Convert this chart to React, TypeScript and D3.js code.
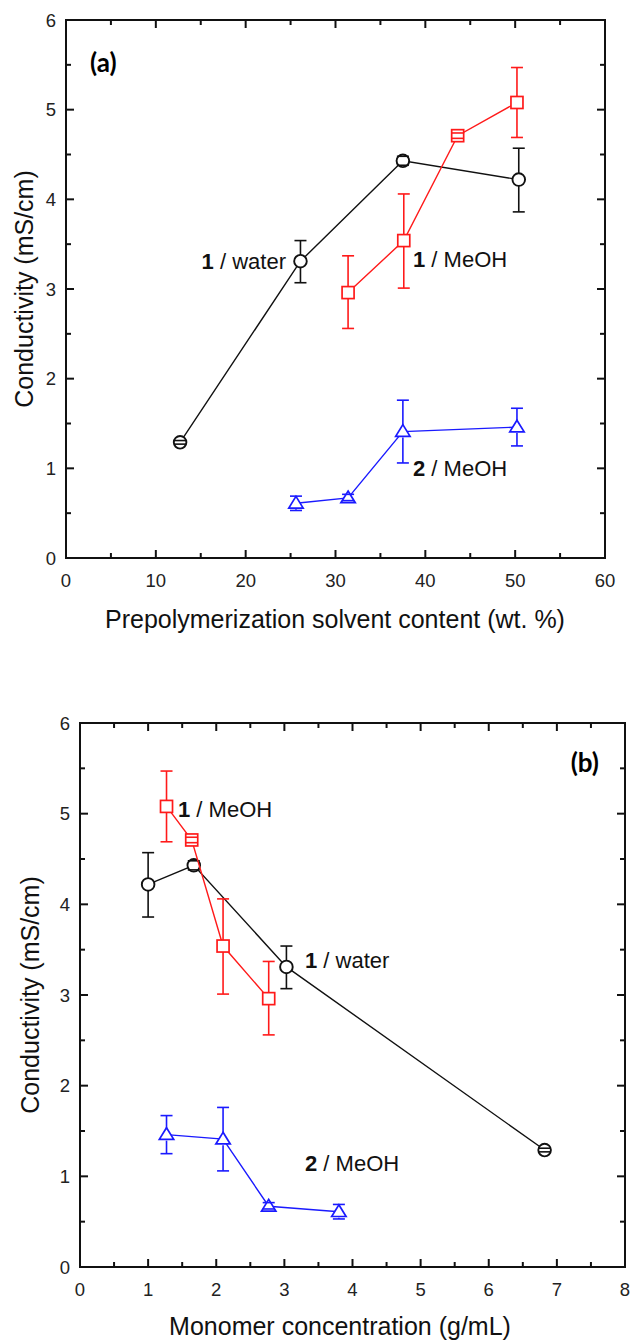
import React, { useEffect, useRef } from 'react';
import * as d3 from 'd3';

// panel (a): prepolymerization solvent content (wt. %)
const waterA = [
    { x: 12.7, y: 1.29, lo: 1.27, hi: 1.31 },
    { x: 26.1, y: 3.31, lo: 3.07, hi: 3.54 },
    { x: 37.5, y: 4.43, lo: 4.38, hi: 4.48 },
    { x: 50.4, y: 4.22, lo: 3.86, hi: 4.57 }
];
const meohA = [
    { x: 31.4, y: 2.96, lo: 2.56, hi: 3.37 },
    { x: 37.6, y: 3.54, lo: 3.01, hi: 4.06 },
    { x: 43.6, y: 4.71, lo: 4.68, hi: 4.74 },
    { x: 50.2, y: 5.08, lo: 4.69, hi: 5.47 }
];
const meoh2A = [
    { x: 25.6, y: 0.61, lo: 0.53, hi: 0.69 },
    { x: 31.4, y: 0.67, lo: 0.64, hi: 0.71 },
    { x: 37.5, y: 1.41, lo: 1.06, hi: 1.76 },
    { x: 50.2, y: 1.46, lo: 1.25, hi: 1.67 }
];

// panel (b): monomer concentration (g/mL)
const waterB = [
    { x: 1.0, y: 4.22, lo: 3.86, hi: 4.57 },
    { x: 1.67, y: 4.43, lo: 4.38, hi: 4.48 },
    { x: 3.03, y: 3.31, lo: 3.07, hi: 3.54 },
    { x: 6.82, y: 1.29, lo: 1.27, hi: 1.31 }
];
const meohB = [
    { x: 1.27, y: 5.08, lo: 4.69, hi: 5.47 },
    { x: 1.64, y: 4.71, lo: 4.68, hi: 4.74 },
    { x: 2.1, y: 3.54, lo: 3.01, hi: 4.06 },
    { x: 2.77, y: 2.96, lo: 2.56, hi: 3.37 }
];
const meoh2B = [
    { x: 1.27, y: 1.46, lo: 1.25, hi: 1.67 },
    { x: 2.1, y: 1.41, lo: 1.06, hi: 1.76 },
    { x: 2.77, y: 0.67, lo: 0.64, hi: 0.71 },
    { x: 3.8, y: 0.61, lo: 0.53, hi: 0.69 }
];

const yTicks = [0, 1, 2, 3, 4, 5, 6];
const xTicksA = [0, 10, 20, 30, 40, 50, 60];
const xTicksB = [0, 1, 2, 3, 4, 5, 6, 7, 8];

const FONT = "'Liberation Sans', Arial, sans-serif";

const drawPanel = (root, opts) => {
    const { left, top, right, bottom, xMax, xTicks, xMinor, xTitle, xTitleX, xTitleDy, yTitleX, series, labels, tag } = opts;

    const x = d3.scaleLinear().domain([0, xMax]).range([left, right]);
    const y = d3.scaleLinear().domain([0, 6]).range([bottom, top]);

    const g = root.append('g');

    // minor / major ticks on all four sides, pointing inward
    const minorX = d3.range(0, xMax + 1e-9, xMinor);
    const minorY = d3.range(0, 6 + 1e-9, 0.5);
    minorX.forEach(v => {
        const major = xTicks.includes(+v.toFixed(3));
        const len = major ? 8 : 5;
        g.append('line').attr('x1', x(v)).attr('x2', x(v)).attr('y1', bottom).attr('y2', bottom - len)
            .attr('stroke', '#111').attr('stroke-width', 2);
        g.append('line').attr('x1', x(v)).attr('x2', x(v)).attr('y1', top).attr('y2', top + len)
            .attr('stroke', '#111').attr('stroke-width', 2);
    });
    minorY.forEach(v => {
        const major = yTicks.includes(v);
        const len = major ? 8 : 5;
        g.append('line').attr('x1', left).attr('x2', left + len).attr('y1', y(v)).attr('y2', y(v))
            .attr('stroke', '#111').attr('stroke-width', 2);
        g.append('line').attr('x1', right).attr('x2', right - len).attr('y1', y(v)).attr('y2', y(v))
            .attr('stroke', '#111').attr('stroke-width', 2);
    });

    g.append('rect')
        .attr('x', left).attr('y', top)
        .attr('width', right - left).attr('height', bottom - top)
        .attr('fill', 'none').attr('stroke', '#111').attr('stroke-width', 2);

    // tick labels
    g.selectAll('.xl').data(xTicks).enter().append('text')
        .attr('x', d => x(d)).attr('y', bottom + 29)
        .attr('text-anchor', 'middle')
        .style('font-family', FONT).style('font-size', '18.5px').attr('fill', '#222')
        .text(d => d);
    g.selectAll('.yl').data(yTicks).enter().append('text')
        .attr('x', left - 10).attr('y', d => y(d) + 6.5)
        .attr('text-anchor', 'end')
        .style('font-family', FONT).style('font-size', '18.5px').attr('fill', '#222')
        .text(d => d);

    // axis titles
    g.append('text')
        .attr('x', xTitleX).attr('y', bottom + xTitleDy)
        .attr('text-anchor', 'middle')
        .style('font-family', FONT).style('font-size', '25px').attr('fill', '#111')
        .text(xTitle);
    g.append('text')
        .attr('transform', `translate(${yTitleX}, ${(top + bottom) / 2}) rotate(-90)`)
        .attr('text-anchor', 'middle')
        .style('font-family', FONT).style('font-size', '25px').attr('fill', '#111')
        .text('Conductivity (mS/cm)');

    // series
    series.forEach(s => {
        const line = d3.line().x(d => x(d.x)).y(d => y(d.y));
        g.append('path').attr('d', line(s.data))
            .attr('fill', 'none').attr('stroke', s.color).attr('stroke-width', 1.4);

        s.data.forEach(d => {
            const cx = x(d.x);
            const cy = y(d.y);
            if (s.shape === 'circle') {
                g.append('circle').attr('cx', cx).attr('cy', cy).attr('r', s.size)
                    .attr('fill', 'white').attr('stroke', s.color).attr('stroke-width', 1.9);
            } else if (s.shape === 'square') {
                g.append('rect').attr('x', cx - s.size).attr('y', cy - s.size)
                    .attr('width', s.size * 2).attr('height', s.size * 2)
                    .attr('fill', 'white').attr('stroke', s.color).attr('stroke-width', 1.7);
            } else {
                const r = s.size;
                const pts = [[cx, cy - r * 1.15], [cx + r * 1.2, cy + r * 0.8], [cx - r * 1.2, cy + r * 0.8]];
                g.append('polygon').attr('points', pts.map(p => p.join(',')).join(' '))
                    .attr('fill', 'white').attr('stroke', s.color).attr('stroke-width', 1.7);
            }

            // error bar, vertical parts kept outside the marker
            const yHi = y(d.hi);
            const yLo = y(d.lo);
            const cap = 6;
            if (yHi < cy - s.size) {
                g.append('line').attr('x1', cx).attr('x2', cx).attr('y1', yHi).attr('y2', cy - s.size)
                    .attr('stroke', s.color).attr('stroke-width', 1.6);
            }
            if (yLo > cy + s.size) {
                g.append('line').attr('x1', cx).attr('x2', cx).attr('y1', cy + s.size).attr('y2', yLo)
                    .attr('stroke', s.color).attr('stroke-width', 1.6);
            }
            [yHi, yLo].forEach(v => {
                g.append('line').attr('x1', cx - cap).attr('x2', cx + cap).attr('y1', v).attr('y2', v)
                    .attr('stroke', s.color).attr('stroke-width', 1.6);
            });
        });
    });

    // in-plot labels
    labels.forEach(l => {
        const t = g.append('text')
            .attr('x', l.x).attr('y', l.y)
            .attr('text-anchor', l.anchor || 'start')
            .style('font-family', FONT).style('font-size', '22px').attr('fill', '#111');
        t.append('tspan').style('font-weight', 'bold').text(l.num);
        t.append('tspan').text(` / ${l.text}`);
    });

    g.append('text')
        .attr('x', tag.x).attr('y', tag.y)
        .attr('text-anchor', tag.anchor)
        .style('font-family', "Lato, 'Open Sans', sans-serif").style('font-size', '26px')
        .style('font-weight', 'bold').attr('fill', '#000')
        .text(tag.text);
};

const App = () => {
    const svgRef = useRef(null);

    useEffect(() => {
        const svg = d3.select(svgRef.current);
        svg.selectAll('*').remove();

        drawPanel(svg, {
            left: 66, top: 20, right: 605, bottom: 558,
            xMax: 60, xTicks: xTicksA, xMinor: 5,
            xTitle: 'Prepolymerization solvent content (wt. %)', xTitleX: 335, xTitleDy: 70, yTitleX: 33,
            series: [
                { data: waterA, color: '#111', shape: 'circle', size: 6.3 },
                { data: meohA, color: '#ff1a1a', shape: 'square', size: 6 },
                { data: meoh2A, color: '#1a1aff', shape: 'triangle', size: 6 }
            ],
            labels: [
                { x: 286, y: 269, num: '1', text: 'water', anchor: 'end' },
                { x: 413, y: 267, num: '1', text: 'MeOH' },
                { x: 413, y: 476, num: '2', text: 'MeOH' }
            ],
            tag: { x: 90, y: 72, text: '(a)', anchor: 'start' }
        });

        drawPanel(svg, {
            left: 80, top: 723, right: 625, bottom: 1267,
            xMax: 8, xTicks: xTicksB, xMinor: 0.5,
            xTitle: 'Monomer concentration (g/mL)', xTitleX: 340, xTitleDy: 68, yTitleX: 39,
            series: [
                { data: waterB, color: '#111', shape: 'circle', size: 6.3 },
                { data: meohB, color: '#ff1a1a', shape: 'square', size: 6 },
                { data: meoh2B, color: '#1a1aff', shape: 'triangle', size: 6 }
            ],
            labels: [
                { x: 178, y: 817, num: '1', text: 'MeOH' },
                { x: 305, y: 968, num: '1', text: 'water' },
                { x: 305, y: 1171, num: '2', text: 'MeOH' }
            ],
            tag: { x: 599, y: 772, text: '(b)', anchor: 'end' }
        });
    }, []);

    return (
        <svg
            ref={svgRef}
            width={634}
            height={1341}
            style={{ position: 'absolute', left: 0, top: 0, background: 'white' }}
        />
    );
};

export default App;
